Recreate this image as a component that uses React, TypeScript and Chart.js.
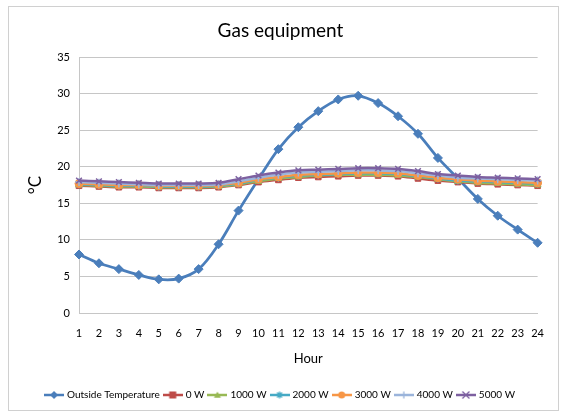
import React, { useEffect, useRef } from "react";
import { Chart, registerables } from "chart.js";

Chart.register(...registerables);

const hours = ["1","2","3","4","5","6","7","8","9","10","11","12","13","14","15","16","17","18","19","20","21","22","23","24"];
const seriesNames = ["Outside Temperature", "0 W", "1000 W", "2000 W", "3000 W", "4000 W", "5000 W"];
const outsideTemp = [8.0, 6.8, 6.0, 5.2, 4.6, 4.7, 6.0, 9.4, 14.0, 18.3, 22.4, 25.4, 27.6, 29.2, 29.7, 28.7, 26.9, 24.5, 21.2, 18.4, 15.6, 13.3, 11.4, 9.6];
const w0 = [17.4, 17.3, 17.2, 17.2, 17.1, 17.1, 17.1, 17.2, 17.5, 17.9, 18.2, 18.5, 18.6, 18.7, 18.8, 18.8, 18.7, 18.4, 18.1, 17.9, 17.7, 17.6, 17.5, 17.4];
const w1000 = [17.5, 17.4, 17.3, 17.3, 17.2, 17.2, 17.2, 17.3, 17.6, 18.0, 18.4, 18.6, 18.8, 18.9, 18.9, 18.9, 18.8, 18.6, 18.3, 18.0, 17.8, 17.7, 17.6, 17.5];
const w2000 = [17.6, 17.5, 17.4, 17.4, 17.3, 17.3, 17.3, 17.4, 17.7, 18.2, 18.5, 18.8, 18.9, 19.0, 19.1, 19.1, 19.0, 18.7, 18.4, 18.1, 18.0, 17.9, 17.8, 17.7];
const w3000 = [17.7, 17.6, 17.5, 17.5, 17.4, 17.4, 17.4, 17.5, 17.8, 18.3, 18.6, 18.9, 19.0, 19.1, 19.2, 19.2, 19.1, 18.8, 18.5, 18.3, 18.1, 18.0, 17.9, 17.8];
const w4000 = [17.9, 17.8, 17.7, 17.6, 17.5, 17.5, 17.5, 17.6, 18.0, 18.5, 18.9, 19.2, 19.3, 19.4, 19.5, 19.5, 19.4, 19.1, 18.8, 18.5, 18.4, 18.3, 18.2, 18.1];
const w5000 = [18.1, 18.0, 17.9, 17.8, 17.7, 17.7, 17.7, 17.8, 18.3, 18.8, 19.2, 19.5, 19.6, 19.7, 19.8, 19.8, 19.7, 19.4, 19.0, 18.8, 18.6, 18.5, 18.4, 18.3];
const yMin = 0;
const yMax = 35;
const yStep = 5;

const seriesData = [outsideTemp, w0, w1000, w2000, w3000, w4000, w5000];
const colors = ["#4A7EBB", "#BE4B48", "#98B954", "#46AAC5", "#F79646", "#9BB4DB", "#7D60A0"];
const styles = ["rectRot", "rect", "triangle", "star", "circle", "cross", "crossRot"];

const FONT = "Lato, 'Open Sans', sans-serif";

function drawMarker(ctx: CanvasRenderingContext2D, style: string, x: number, y: number, r: number, color: string) {
  ctx.fillStyle = color;
  ctx.strokeStyle = color;
  ctx.lineWidth = 1.3;
  ctx.beginPath();
  switch (style) {
    case "rectRot":
      ctx.moveTo(x, y - r - 0.5);
      ctx.lineTo(x + r + 0.5, y);
      ctx.lineTo(x, y + r + 0.5);
      ctx.lineTo(x - r - 0.5, y);
      ctx.closePath();
      ctx.fill();
      break;
    case "rect":
      ctx.fillRect(x - r, y - r, 2 * r, 2 * r);
      break;
    case "triangle":
      ctx.moveTo(x, y - r);
      ctx.lineTo(x + r, y + r * 0.8);
      ctx.lineTo(x - r, y + r * 0.8);
      ctx.closePath();
      ctx.fill();
      break;
    case "circle":
      ctx.arc(x, y, r, 0, Math.PI * 2);
      ctx.fill();
      break;
    case "cross":
      ctx.moveTo(x - r, y); ctx.lineTo(x + r, y);
      ctx.moveTo(x, y - r); ctx.lineTo(x, y + r);
      ctx.stroke();
      break;
    case "crossRot":
      ctx.moveTo(x - r, y - r); ctx.lineTo(x + r, y + r);
      ctx.moveTo(x + r, y - r); ctx.lineTo(x - r, y + r);
      ctx.stroke();
      break;
    case "star":
      ctx.moveTo(x - r, y); ctx.lineTo(x + r, y);
      ctx.moveTo(x, y - r); ctx.lineTo(x, y + r);
      ctx.moveTo(x - r * 0.7, y - r * 0.7); ctx.lineTo(x + r * 0.7, y + r * 0.7);
      ctx.moveTo(x + r * 0.7, y - r * 0.7); ctx.lineTo(x - r * 0.7, y + r * 0.7);
      ctx.stroke();
      break;
  }
}

function legendImage(color: string, style: string) {
  const c = document.createElement("canvas");
  c.width = 20;
  c.height = 10;
  const ctx = c.getContext("2d")!;
  ctx.strokeStyle = color;
  ctx.lineWidth = 2.5;
  ctx.beginPath();
  ctx.moveTo(0, 5);
  ctx.lineTo(20, 5);
  ctx.stroke();
  drawMarker(ctx, style, 10, 5, 3.5, color);
  return c;
}

export default function App() {
  const ref = useRef<HTMLCanvasElement | null>(null);

  useEffect(() => {
    if (!ref.current) return;
    const images = colors.map((c, i) => legendImage(c, styles[i]));
    const datasets = seriesNames.map((name, i) => ({
      label: name,
      data: seriesData[i],
      borderColor: colors[i],
      backgroundColor: colors[i],
      pointStyle: styles[i] as any,
      pointRadius: i === 0 ? 4.5 : 4,
      pointHoverRadius: 4,
      pointBorderWidth: ["star", "cross", "crossRot"].includes(styles[i]) ? 1.5 : 1,
      borderWidth: i === 0 ? 2.75 : 2.5,
      tension: 0.35,
      fill: false,
      order: seriesNames.length - i,
    }));
    const chart = new Chart(ref.current, {
      type: "line",
      data: { labels: hours, datasets },
      options: {
        animation: false,
        responsive: false,
        devicePixelRatio: 1,
        layout: { padding: { left: 0, right: 6, top: 0, bottom: 0 } },
        plugins: {
          title: {
            display: true,
            text: "Gas equipment",
            color: "#000",
            font: { family: FONT, size: 19, weight: "normal" },
            padding: { top: 12, bottom: 15.2 },
          },
          legend: {
            position: "bottom",
            labels: {
              usePointStyle: true,
              pointStyleWidth: 16,
              boxHeight: 10,
              padding: 5,
              color: "#000",
              font: { family: FONT, size: 10 },
              generateLabels: () =>
                seriesNames.map((name, i) => ({
                  text: name,
                  fillStyle: colors[i],
                  strokeStyle: colors[i],
                  lineWidth: 0,
                  pointStyle: images[i] as any,
                  hidden: false,
                  datasetIndex: i,
                })),
            },
          },
          tooltip: { enabled: false },
        },
        scales: {
          x: {
            offset: false,
            grid: { display: false, drawTicks: false },
            border: { display: true, color: "#C6C6C6", width: 1 },
            ticks: { color: "#000", font: { family: FONT, size: 11 }, padding: 14, maxRotation: 0, autoSkip: false },
            title: {
              display: true,
              text: "Hour",
              color: "#000",
              font: { family: FONT, size: 13 },
              padding: { top: 0, bottom: 18 },
            },
            afterFit: (scale: any) => {
              scale.height = 72;
            },
          },
          y: {
            min: yMin,
            max: yMax,
            grid: { color: "#C6C6C6", drawTicks: false, lineWidth: 1 },
            border: { display: true, color: "#C6C6C6", width: 1 },
            ticks: { stepSize: yStep, color: "#000", font: { family: FONT, size: 11 }, padding: 9 },
            title: {
              display: true,
              text: "°C",
              color: "#000",
              font: { family: FONT, size: 17 },
              padding: { top: 16, bottom: 0 },
            },
            afterFit: (scale: any) => {
              scale.width = 70;
            },
          },
        },
      },
    });
    return () => chart.destroy();
  }, []);

  return (
    <div
      style={{
        position: "absolute",
        left: 8,
        top: 6,
        width: 551,
        height: 405,
        border: "1px solid #D0D0D0",
        boxSizing: "border-box",
        background: "#fff",
      }}
    >
      <canvas ref={ref} width={549} height={403} style={{ display: "block" }} />
    </div>
  );
}
